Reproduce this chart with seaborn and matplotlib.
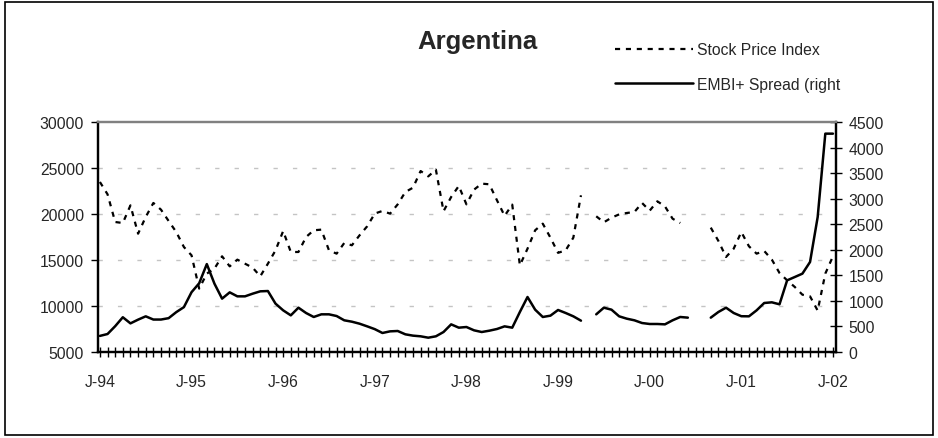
import numpy as np
import pandas as pd
import matplotlib
matplotlib.use("Agg")
import matplotlib.pyplot as plt
from matplotlib.patches import Rectangle
import seaborn as sns

# monthly categories Jan-94 .. Jan-02
months = pd.date_range("1994-01-01", "2002-01-01", freq="MS")
tick_labels = ["J-94", "J-95", "J-96", "J-97", "J-98", "J-99", "J-00", "J-01", "J-02"]

nan = np.nan
stock_index = [
    23480, 22140, 19130, 19020, 20940, 17860, 19680, 21200, 20470, 19240, 18040, 16410,
    15510, 11890, 13520, 14060, 15400, 14310, 15040, 14600, 14170, 13230, 14600, 16050,
    18150, 15870, 15870, 17500, 18230, 18300, 16050, 15690, 16850, 16600, 17680, 18660,
    20050, 20330, 20040, 21050, 22390, 22860, 24670, 24090, 24820, 20300, 21850, 23050,
    21050, 22650, 23300, 23230, 21490, 19800, 21020, 14420, 16230, 18230, 18950, 17430,
    15780, 16050, 17430, 22030, nan, 19750, 19100, 19600, 19960, 20110, 20220, 21200,
    20360, 21380, 20830, 19490, 19020, nan, nan, nan, 18520, 17070, 15330, 16230,
    18040, 16490, 15690, 15980, 15040, 13590, 12790, 12070, 11230, 11050, 9500, 13520,
    15400,
]
embi_spread = [
    315, 352, 505, 680, 560, 633, 698, 635, 635, 662, 780, 878,
    1170, 1345, 1720, 1337, 1044, 1167, 1089, 1089, 1141, 1187, 1193, 946,
    815, 717, 867, 763, 685, 737, 737, 704, 620, 593, 554, 502,
    447, 372, 404, 411, 346, 320, 307, 280, 307, 391, 541, 476,
    489, 424, 391, 417, 450, 502, 476, 783, 1076, 828, 685, 711,
    822, 763, 698, 613, nan, 737, 867, 828, 698, 652, 620, 567,
    548, 548, 541, 620, 685, 672, nan, nan, 672, 783, 867, 763,
    700, 698, 815, 959, 972, 933, 1402, 1467, 1533, 1761, 2641, 4272,
    4272,
]


def segments(values):
    # split a series at its gaps so lines are not joined across missing months
    s = pd.Series(values, dtype=float)
    seg = s.isna().cumsum()
    df = pd.DataFrame({"pos": np.arange(len(s)), "value": s, "seg": seg})
    return df.dropna()


sns.set_style("white")
plt.rcParams["font.family"] = ["Liberation Sans", "DejaVu Sans"]
fs = 11.3

fig = plt.figure(figsize=(9.38, 4.39), dpi=100)
W, H = 938, 439
ax = fig.add_axes([98 / W, (H - 353) / H, (836 - 98) / W, (353 - 123) / H])
ax2 = ax.twinx()

# dashed horizontal grid on the left axis
for g in [10000, 15000, 20000, 25000]:
    ax.axhline(g, color="#c4c4c4", lw=1, linestyle=(0, (3.1, 10.9)), zorder=0)

sns.lineplot(data=segments(stock_index), x="pos", y="value", units="seg",
             estimator=None, color="black", lw=1.6, linestyle=(0, (2.3, 2.6)),
             ax=ax, legend=False)
sns.lineplot(data=segments(embi_spread), x="pos", y="value", units="seg",
             estimator=None, color="black", lw=1.8, ax=ax2, legend=False)

ax.set_xlim(-0.25, len(months) - 0.6)
ax.set_ylim(5000, 30000)
ax2.set_ylim(0, 4500)
ax.set_yticks(range(5000, 30001, 5000))
ax2.set_yticks(range(0, 4501, 500))
ax.set_xticks(range(0, len(months), 12))
ax.set_xticks(range(len(months)), minor=True)
ax.set_xticklabels(tick_labels)
for a in (ax, ax2):
    a.set_xlabel("")
    a.set_ylabel("")

ax.tick_params(axis="x", which="both", direction="inout", length=7, width=1,
               color="black", labelsize=fs, pad=12, bottom=True, top=False)
ax.tick_params(axis="y", direction="out", length=5, width=1, color="black",
               labelsize=fs, pad=5, left=True, right=False)
ax2.tick_params(axis="y", direction="inout", length=8, width=1, color="black",
                labelsize=fs, pad=5, right=True, left=False)

for a in (ax, ax2):
    for side in ["left", "right", "bottom"]:
        a.spines[side].set_color("black")
        a.spines[side].set_linewidth(1.6)
    a.spines["top"].set_color("#808080")
    a.spines["top"].set_linewidth(1.6)

fig.text(477 / W, 1 - 42 / H, "Argentina", ha="center", va="center",
         fontsize=18.5, fontweight="bold")

fig.legend([ax.lines[-1], ax2.lines[-1]], ["Stock Price Index", "EMBI+ Spread (right"],
           loc="upper left", bbox_to_anchor=(615 / W, 1 - 43 / H), frameon=False,
           fontsize=fs, handlelength=5.0, handletextpad=0.2, labelspacing=1.25,
           borderpad=0, borderaxespad=0)

fig.patches.append(Rectangle((5 / W, 3 / H), 928 / W, 433 / H, transform=fig.transFigure,
                             fill=False, edgecolor="black", lw=1.2))

fig.savefig("out.png", dpi=100)
